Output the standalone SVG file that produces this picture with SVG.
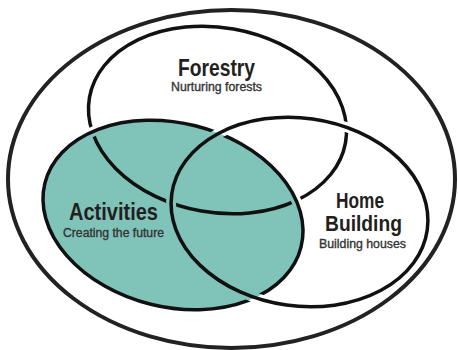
<svg xmlns="http://www.w3.org/2000/svg" xmlns:xlink="http://www.w3.org/1999/xlink" width="458" height="350" viewBox="0 0 458 350">
  <style>
    .line { fill: none; stroke: #111; stroke-width: 3.5; }
    .outer { fill: #fff; stroke: #222; stroke-width: 4; }
    .teal { fill: #80c3b9; stroke: none; }
    .title { font-family: "Liberation Sans Narrow", "Liberation Sans", Arial, sans-serif; font-weight: bold; font-size: 23px; fill: #231f20; text-anchor: middle; }
    .title.tight { font-size: 22px; }
    .sub { font-family: "Liberation Sans Narrow", "Liberation Sans", Arial, sans-serif; font-weight: normal; font-size: 12.5px; fill: #333; stroke: #333; stroke-width: 0.35; text-anchor: middle; }
  </style>
  <defs>
    <!-- shape geometry only; styling is applied where used -->
    <ellipse id="shapeForestry" cx="0" cy="0" rx="130" ry="92.5" transform="translate(217.5 120) rotate(10)"/>
    <ellipse id="shapeActivities" cx="0" cy="0" rx="132" ry="92" transform="translate(173 215) rotate(14)"/>
    <ellipse id="shapeHome" cx="0" cy="0" rx="129" ry="94" transform="translate(299.5 212) rotate(8)"/>

    <!-- regions around each crossing where the lower line is broken -->
    <clipPath id="cutFA"><circle cx="93" cy="131" r="13"/><circle cx="296" cy="202" r="13"/></clipPath>
    <clipPath id="cutFH"><circle cx="346" cy="131" r="13"/><circle cx="172" cy="201" r="13"/></clipPath>
    <clipPath id="cutAH"><circle cx="221" cy="132" r="13"/><circle cx="253" cy="295" r="13"/></clipPath>

    <mask id="gapForestry" maskUnits="userSpaceOnUse" x="0" y="0" width="458" height="350">
      <rect x="0" y="0" width="458" height="350" fill="#fff"/>
      <use xlink:href="#shapeActivities" fill="none" stroke="#000" stroke-width="10" clip-path="url(#cutFA)"/>
      <use xlink:href="#shapeHome" fill="none" stroke="#000" stroke-width="10" clip-path="url(#cutFH)"/>
    </mask>
    <mask id="gapActivities" maskUnits="userSpaceOnUse" x="0" y="0" width="458" height="350">
      <rect x="0" y="0" width="458" height="350" fill="#fff"/>
      <use xlink:href="#shapeHome" fill="none" stroke="#000" stroke-width="10" clip-path="url(#cutAH)"/>
    </mask>
  </defs>

  <rect x="0" y="0" width="458" height="350" fill="#fff"/>

  <g id="outer-boundary">
    <ellipse class="outer" cx="231.5" cy="179" rx="223.5" ry="169"/>
  </g>

  <g id="activities">
    <use xlink:href="#shapeActivities" class="teal"/>
  </g>

  <g id="forestry">
    <use xlink:href="#shapeForestry" class="line" mask="url(#gapForestry)"/>
    <text class="title" x="216.5" y="76" textLength="77" lengthAdjust="spacingAndGlyphs">Forestry</text>
    <text class="sub" x="216.5" y="91" textLength="91" lengthAdjust="spacingAndGlyphs">Nurturing forests</text>
  </g>

  <g id="activities-outline">
    <use xlink:href="#shapeActivities" class="line" mask="url(#gapActivities)"/>
    <text class="title" x="113.5" y="220" textLength="89" lengthAdjust="spacingAndGlyphs">Activities</text>
    <text class="sub" x="113.5" y="236.5" textLength="101" lengthAdjust="spacingAndGlyphs">Creating the future</text>
  </g>

  <g id="home-building">
    <use xlink:href="#shapeHome" class="line"/>
    <text class="title tight" x="360" y="208" textLength="48" lengthAdjust="spacingAndGlyphs">Home</text>
    <text class="title tight" x="363.5" y="231" textLength="77" lengthAdjust="spacingAndGlyphs">Building</text>
    <text class="sub" x="362.5" y="248" textLength="87" lengthAdjust="spacingAndGlyphs">Building houses</text>
  </g>
</svg>
